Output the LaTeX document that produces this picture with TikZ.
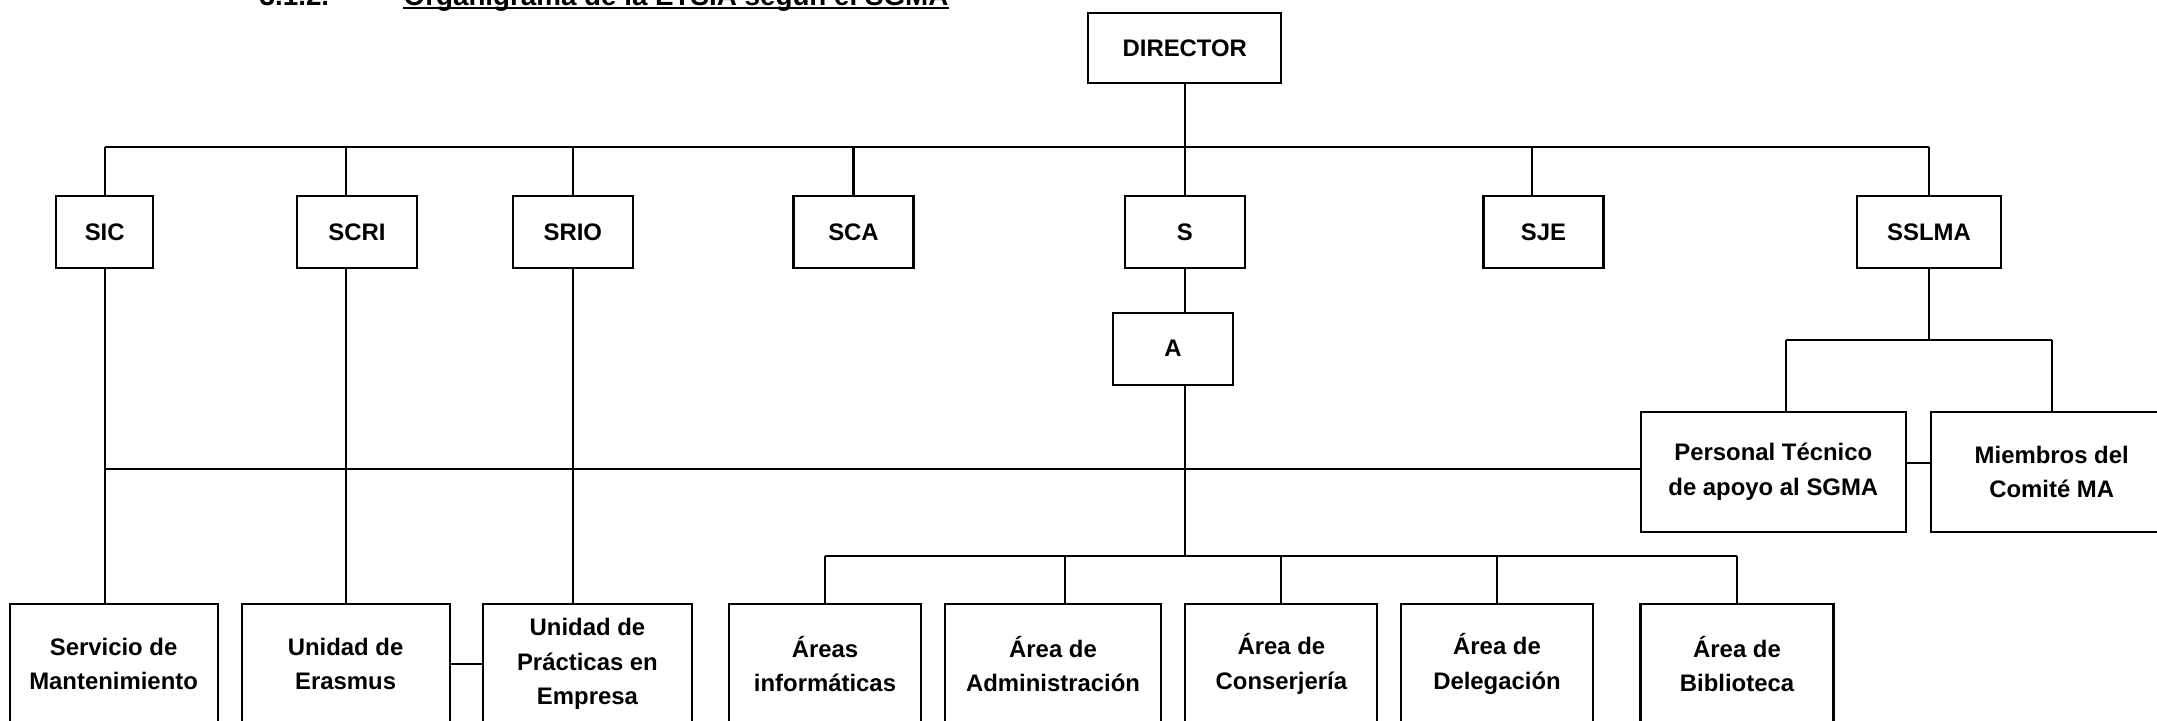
\documentclass[tikz,border=0pt]{standalone}
\usepackage{fontspec}
\setmainfont{Liberation Sans}
\usetikzlibrary{positioning,calc}
\tikzset{
  unit/.style={draw,line width=0.6pt,fill=white,align=center,inner sep=0pt,
               font={\fontsize{6.8}{9.9}\selectfont\bfseries},
               minimum width=12mm,minimum height=7.23mm},
  unitw/.style={unit,minimum height=12mm},
  wire/.style={line width=0.6pt},
  headtxt/.style={anchor=base west,inner sep=0pt,
                  font={\fontsize{7.9}{9}\selectfont\bfseries}},
}

\begin{document}
\begin{tikzpicture}[x=0.1mm,y=-0.1mm]
  \useasboundingbox (0,0) rectangle (2157,720);
  \clip (0,0) rectangle (2157,720);
  \fill[white] (0,0) rectangle (2157,720);

  % heading, cut by the top edge
  \node[headtxt] (num) at (259,5) {3.1.2.};
  \node[headtxt] (ttl) at (403,5) {Organigrama de la ETSIA según el SGMA};
  \draw[line width=0.25mm] ([yshift=-0.3mm]ttl.base west) -- ([yshift=-0.3mm]ttl.base east);

  \node[unit,minimum width=19.3mm,minimum height=7.06mm] (dir) at (1184.8,48) {DIRECTOR};

  \node[unit,minimum width=9.7mm] (sic) at (104.7,232) {SIC};
  \node[unit] (scri) at (357,232) {SCRI};
  \node[unit] (srio) at (572.8,232) {SRIO};
  \node[unit] (sca) at (853.5,232) {SCA};
  \node[unit] (s) at (1184.8,232) {S};
  \node[unit] (sje) at (1543.5,232) {SJE};
  \node[unit,minimum width=14.4mm] (sslma) at (1929,232) {SSLMA};
  \node[unit] (a) at (1173,348.7) {A};

  \node[unitw,minimum width=26.46mm] (personal) at (1773.3,471.9)
    {Personal Técnico\\de apoyo al SGMA};
  \node[unitw,minimum width=24.2mm,right=2.3mm of personal] (miembros)
    {Miembros del\\Comité MA};

  \node[unitw,minimum width=20.8mm] (mant) at (113.6,664) {Servicio de\\Mantenimiento};
  \node[unitw,minimum width=20.8mm] (erasmus) at (345.6,664) {Unidad de\\Erasmus};
  \node[unitw,minimum width=20.95mm,right=3.1mm of erasmus] (practicas)
    {Unidad de\\Prácticas en\\Empresa};
  \node[unitw,minimum width=19.2mm] (info) at (825,664) {Áreas\\informáticas};
  \node[unitw,minimum width=21.6mm] (admin) at (1053,664) {Área de\\Administración};
  \node[unitw,minimum width=19.2mm] (conser) at (1281.4,664) {Área de\\Conserjería};
  \node[unitw,minimum width=19.2mm] (deleg) at (1497,664) {Área de\\Delegación};
  \node[unitw,minimum width=19.3mm] (biblio) at (1737,664) {Área de\\Biblioteca};

  \coordinate (topbus) at (1184.8,147);
  \coordinate (midbus) at (1184.8,469);
  \coordinate (areabus) at (1184.8,556);
  \coordinate (ssbus) at (1929,340);

  % director and first level
  \draw[wire] (dir.south) -- (topbus);
  \draw[wire] (sic.north |- topbus) -- (sslma.north |- topbus);
  \foreach \n in {sic,srio,sca,s,sslma}
    \draw[wire] (\n.north |- topbus) -- (\n.north);
  \draw[wire] (erasmus.north |- topbus) -- (erasmus.north |- scri.north);
  \draw[wire] ([xshift=-1.15mm]sje.north |- topbus) -- ([xshift=-1.15mm]sje.north);

  % down to the units
  \draw[wire] (sic.south) -- (sic.south |- mant.north);
  \draw[wire] (erasmus.north |- scri.south) -- (erasmus.north);
  \draw[wire] (srio.south) -- (srio.south |- practicas.north);
  \draw[wire] (erasmus.east) -- (practicas.west);
  \draw[wire] (sic.south |- midbus) -- (personal.west |- midbus);

  % S, A and the areas
  \draw[wire] (s.south) -- (s.south |- a.north);
  \draw[wire] (s.south |- a.south) -- (areabus);
  \draw[wire] (info.north |- areabus) -- (biblio.north |- areabus);
  \foreach \n in {info,conser,deleg,biblio}
    \draw[wire] (\n.north |- areabus) -- (\n.north);
  \draw[wire] ([xshift=1.18mm]admin.north |- areabus) -- ([xshift=1.18mm]admin.north);

  % SSLMA
  \draw[wire] (sslma.south) -- (ssbus);
  \draw[wire] ([xshift=1.23mm]personal.north |- ssbus) -- (miembros.north |- ssbus);
  \draw[wire] ([xshift=1.23mm]personal.north |- ssbus) -- ([xshift=1.23mm]personal.north);
  \draw[wire] (miembros.north |- ssbus) -- (miembros.north);
  \draw[wire] ([yshift=0.9mm]personal.east) -- ([yshift=0.9mm]miembros.west);
\end{tikzpicture}
\end{document}
